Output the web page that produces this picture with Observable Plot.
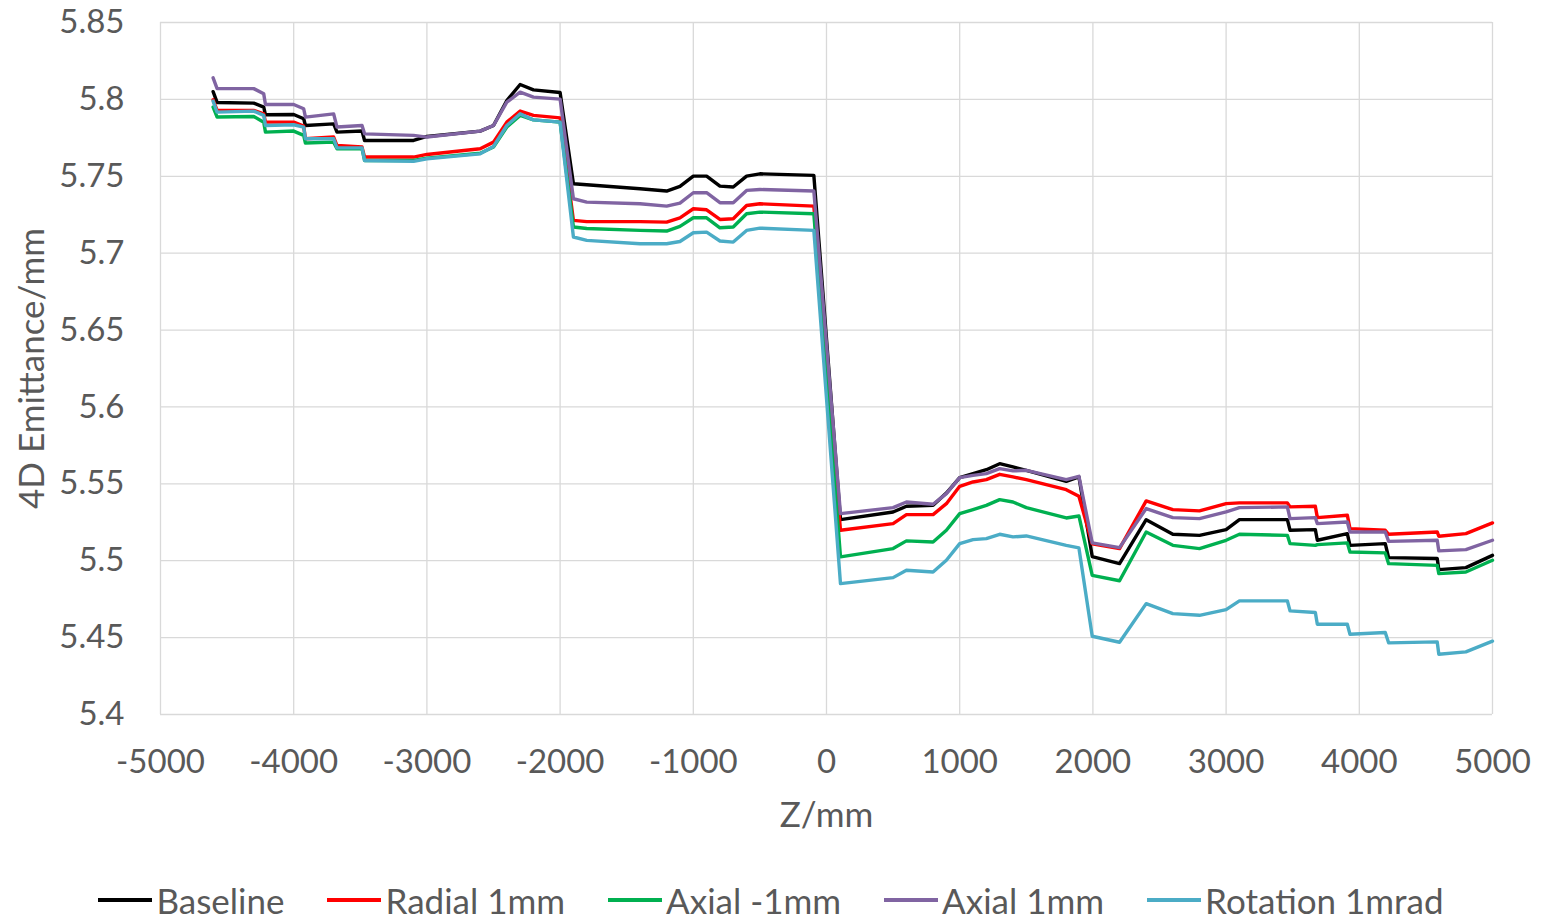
<!DOCTYPE html>
<html><head><meta charset="utf-8">
<script src="https://cdn.jsdelivr.net/npm/d3@7"></script>
<script src="https://cdn.jsdelivr.net/npm/@observablehq/plot@0.6"></script>
<style>
body{margin:0;background:#fff;font-family:Lato, sans-serif;}
#chart svg{display:block;}
#legend{display:flex;justify-content:center;gap:43px;height:58px;margin-top:11px;align-items:center;color:#595959;font-size:35px;font-family:Lato, sans-serif;}
.item{display:flex;align-items:center;}
.sw{width:54px;height:4px;margin-right:4px;}
</style></head><body>
<div id="chart"></div><div id="legend"></div>
<script>
const z = [-4605,-4575,-4300,-4225,-4212,-4000,-3925,-3912,-3700,-3675,-3487,-3468,-3100,-3000,-2600,-2500,-2400,-2300,-2200,-2000,-1900,-1800,-1400,-1200,-1100,-1000,-900,-800,-700,-600,-500,-95,105,500,600,800,900,1000,1100,1200,1300,1400,1500,1800,1895,1995,2200,2400,2600,2800,3000,3100,3460,3480,3670,3685,3910,3930,4195,4220,4585,4597,4800,5000];

const baseline = [5.805,5.798,5.7976,5.795,5.790,5.7902,5.7874,5.783,5.7841,5.7787,5.7794,5.7733,5.7733,5.7759,5.7794,5.783,5.7993,5.8097,5.8062,5.8045,5.7451,5.7445,5.7419,5.7404,5.7434,5.7501,5.7501,5.7436,5.743,5.7501,5.7516,5.7506,5.5267,5.5317,5.5354,5.536,5.544,5.554,5.5566,5.5592,5.5631,5.561,5.5588,5.5516,5.5545,5.5027,5.4981,5.5267,5.5172,5.5165,5.5202,5.5267,5.5267,5.5198,5.5202,5.5133,5.5176,5.510,5.5111,5.502,5.5014,5.4942,5.4955,5.5035];

const radial = [5.7997,5.7928,5.7928,5.7906,5.7852,5.7852,5.7826,5.7744,5.7755,5.770,5.769,5.7625,5.7625,5.7642,5.7679,5.7722,5.7852,5.7924,5.7896,5.788,5.7213,5.7205,5.7205,5.7202,5.723,5.7289,5.7282,5.7219,5.7224,5.731,5.7321,5.7306,5.5198,5.5241,5.530,5.530,5.5371,5.5484,5.5512,5.5527,5.5562,5.5545,5.5527,5.5462,5.5419,5.511,5.5079,5.5389,5.5332,5.5324,5.5371,5.5376,5.5376,5.535,5.5354,5.528,5.5296,5.5209,5.5198,5.5172,5.5187,5.5159,5.5176,5.5246];

const axialMinus = [5.795,5.7885,5.7889,5.7852,5.7787,5.7794,5.7766,5.7716,5.7722,5.7679,5.7679,5.7603,5.7603,5.7618,5.765,5.769,5.782,5.7896,5.7867,5.7852,5.717,5.716,5.7148,5.7144,5.7174,5.723,5.723,5.7165,5.717,5.7256,5.7267,5.7256,5.5025,5.5079,5.5129,5.5122,5.5198,5.5306,5.5332,5.536,5.5397,5.5382,5.5345,5.5278,5.5291,5.4905,5.487,5.5187,5.510,5.5079,5.5133,5.5172,5.5165,5.5111,5.510,5.5105,5.5116,5.5057,5.5051,5.4981,5.497,5.4916,5.4927,5.5003];

const axialPlus = [5.814,5.807,5.807,5.8036,5.7967,5.7967,5.7939,5.7885,5.7906,5.782,5.783,5.7776,5.7766,5.7755,5.7794,5.783,5.7982,5.8047,5.8015,5.8002,5.7354,5.7332,5.7321,5.7306,5.7326,5.7393,5.7393,5.7328,5.7328,5.7408,5.7414,5.7404,5.5306,5.5345,5.5382,5.5367,5.5436,5.554,5.5555,5.5566,5.5599,5.5584,5.5588,5.5527,5.5549,5.5116,5.5085,5.5339,5.528,5.5274,5.5317,5.5345,5.535,5.5274,5.528,5.5241,5.5252,5.5187,5.5187,5.5126,5.5133,5.5064,5.5072,5.5133];

const rotation = [5.7989,5.7917,5.7924,5.7896,5.783,5.7835,5.782,5.7744,5.7744,5.7685,5.7685,5.7603,5.7597,5.7614,5.7646,5.7694,5.783,5.7906,5.7867,5.7852,5.7105,5.7083,5.7061,5.7061,5.7076,5.7133,5.7137,5.7079,5.7072,5.7148,5.7163,5.7148,5.4851,5.489,5.4938,5.4927,5.5003,5.5111,5.5137,5.5144,5.5172,5.5155,5.5161,5.510,5.5083,5.4509,5.447,5.4721,5.4656,5.4645,5.4682,5.4739,5.4739,5.4674,5.4663,5.4587,5.4587,5.4522,5.4533,5.4466,5.4472,5.4392,5.4407,5.4477];

const seriesNames = ["Baseline","Radial 1mm","Axial -1mm","Axial 1mm","Rotation 1mrad"];
const seriesColors = ["#000000","#ff0000","#00b050","#8064a2","#4bacc6"];
const xTicks = [-5000,-4000,-3000,-2000,-1000,0,1000,2000,3000,4000,5000];
const yTicks = [5.4,5.45,5.5,5.55,5.6,5.65,5.7,5.75,5.8,5.85];
const xLabel = "Z/mm";
const yLabel = "4D Emittance/mm";

const allSeries = [baseline, radial, axialMinus, axialPlus, rotation];
const rows = [];
allSeries.forEach((vals, i) => vals.forEach((v, j) => rows.push({series: seriesNames[i], z: z[j], e: v})));

const chart = Plot.plot({
  width: 1542, height: 860,
  marginLeft: 160, marginRight: 50, marginTop: 22, marginBottom: 146,
  style: {fontFamily: "Lato, sans-serif", fontSize: "33px", color: "#595959", background: "#fff", overflow: "visible"},
  x: {domain: [-5000, 5000]},
  y: {domain: [5.4, 5.85]},
  color: {domain: seriesNames, range: seriesColors},
  marks: [
    Plot.gridX(xTicks, {stroke: "#d9d9d9", strokeOpacity: 1, strokeWidth: 1.3}),
    Plot.gridY(yTicks, {stroke: "#d9d9d9", strokeOpacity: 1, strokeWidth: 1.3}),
    Plot.axisX(xTicks, {tickSize: 0, tickPadding: 35, tickFormat: d => String(d), label: null, fontSize: 33}),
    Plot.axisY(yTicks, {tickSize: 0, tickPadding: 36, tickFormat: d => String(d), label: null, fontSize: 33}),
    Plot.line(rows, {x: "z", y: "e", stroke: "series", z: "series", strokeWidth: 3.4, strokeLinejoin: "round", strokeLinecap: "round"}),
    Plot.text([xLabel], {text: d => d, frameAnchor: "bottom", dy: 101, lineAnchor: "middle", fontSize: 35, fill: "#595959"}),
    Plot.text([yLabel], {text: d => d, frameAnchor: "left", dx: -128, rotate: -90, lineAnchor: "middle", textAnchor: "middle", fontSize: 35, fill: "#595959"})
  ]
});
document.getElementById("chart").appendChild(chart);

const legend = document.getElementById("legend");
seriesNames.forEach((name, i) => {
  const item = document.createElement("div");
  item.className = "item";
  const sw = document.createElement("span");
  sw.className = "sw";
  sw.style.background = seriesColors[i];
  const t = document.createElement("span");
  t.textContent = name;
  item.appendChild(sw); item.appendChild(t);
  legend.appendChild(item);
});
</script>
</body></html>
